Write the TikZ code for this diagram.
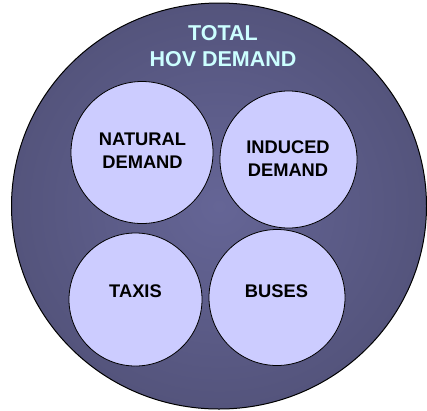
\documentclass[tikz,border=0pt]{standalone}
\usepackage{fontspec}
\setmainfont{Liberation Sans}
\begin{document}
\begin{tikzpicture}[x=1pt,y=-1pt,
  outer/.style={draw=black,line width=1pt,inner color={rgb,255:red,101;green,101;blue,150},outer color={rgb,255:red,84;green,84;blue,124}},
  bubble/.style={circle,draw=black,line width=0.8pt,fill={rgb,255:red,204;green,204;blue,255},inner sep=0pt},
  smalltext/.style={align=center,font=\bfseries\fontsize{18.3}{23}\selectfont,text=black,inner sep=0pt},
  titletext/.style={align=center,font=\bfseries\fontsize{21.5}{26}\selectfont,text={rgb,255:red,204;green,255;blue,255},inner sep=0pt}]
\useasboundingbox (0,0) rectangle (427,410);
\path[outer] (219,206) ellipse [x radius=207.5,y radius=203];
\node[titletext] (title) at (223,46) {TOTAL\\HOV DEMAND};
\node[bubble,minimum size=142pt] (nat) at (142,152.5) {};
\node[bubble,minimum size=137pt] (ind) at (288.5,159.5) {};
\node[bubble,minimum size=133pt] (tax) at (135.5,299.5) {};
\node[bubble,minimum size=136pt] (bus) at (277,297.5) {};
\node[smalltext] (natt) at (142.5,150.5) {NATURAL\\DEMAND};
\node[smalltext] (indt) at (288,158.5) {INDUCED\\DEMAND};
\node[smalltext] (taxt) at (135.5,291) {TAXIS};
\node[smalltext] (bust) at (276.5,290.7) {BUSES};
\end{tikzpicture}
\end{document}
